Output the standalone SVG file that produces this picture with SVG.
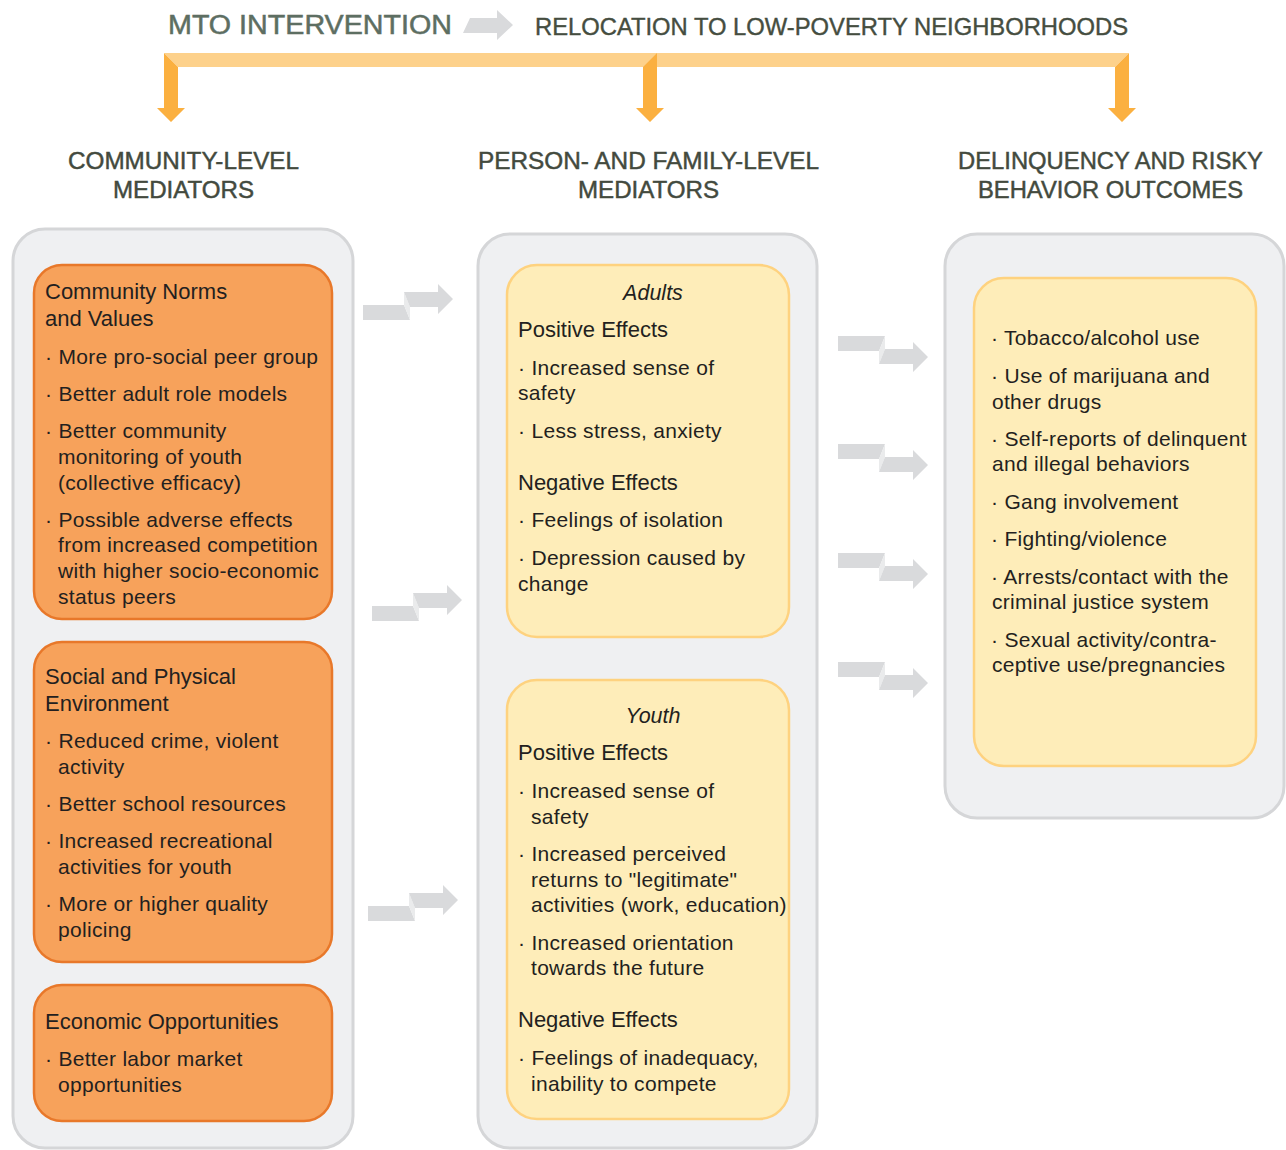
<svg xmlns="http://www.w3.org/2000/svg" width="1286" height="1150" viewBox="0 0 1286 1150">
<style>
text{font-family:"Liberation Sans",Arial,sans-serif;}
.hdr{font-size:23px;fill:#434a3e;stroke:#434a3e;stroke-width:0.45;text-anchor:middle;}
.t{font-size:21px;fill:#231f20;letter-spacing:0.3px;}
.ti{font-size:22px;fill:#231f20;}
.it{font-size:21.5px;fill:#231f20;font-style:italic;text-anchor:middle;}
.panel{fill:#eff0f2;stroke:#d5d6d8;stroke-width:3;}
.org{fill:#f7a25b;stroke:#e8782a;stroke-width:2.5;}
.yel{fill:#feedb9;stroke:#fed27f;stroke-width:2.5;}
.g{fill:#d9dadc;}
.gf{fill:#eaebec;}
.oa{fill:#fbb040;}
.ol{fill:#fdd18b;}
</style>
<g id="title">
<text x="168" y="34" textLength="284" lengthAdjust="spacingAndGlyphs" style="font-size:27px;fill:#5d6e62;stroke:#5d6e62;stroke-width:0.5;">MTO INTERVENTION</text>
<polygon class="g" points="470,18 497,18 497,10 513,25 497,40 497,33 463,33"/>
<text x="535" y="35" textLength="593" lengthAdjust="spacingAndGlyphs" style="font-size:24px;fill:#454d40;stroke:#454d40;stroke-width:0.4;">RELOCATION TO LOW-POVERTY NEIGHBORHOODS</text>
</g>
<g id="bracket">
<polygon class="ol" points="164,53 1129,53 1115,67 178,67"/>
<polygon class="oa" points="164,53 178,67 178,108 185,108 171,122 157,108 164,108"/>
<polygon class="oa" points="657,53 657,108 664,108 650,122 636,108 643,108 643,67"/>
<polygon class="oa" points="1129,53 1129,108 1136,108 1122,122 1108,108 1115,108 1115,67"/>
</g>
<g id="headings">
<text class="hdr" x="183.5" y="169" textLength="231" lengthAdjust="spacingAndGlyphs">COMMUNITY-LEVEL</text>
<text class="hdr" x="183.5" y="198" textLength="141" lengthAdjust="spacingAndGlyphs">MEDIATORS</text>
<text class="hdr" x="648.5" y="169" textLength="341" lengthAdjust="spacingAndGlyphs">PERSON- AND FAMILY-LEVEL</text>
<text class="hdr" x="648.5" y="198" textLength="141" lengthAdjust="spacingAndGlyphs">MEDIATORS</text>
<text class="hdr" x="1110.5" y="169" textLength="305" lengthAdjust="spacingAndGlyphs">DELINQUENCY AND RISKY</text>
<text class="hdr" x="1110.5" y="198" textLength="265" lengthAdjust="spacingAndGlyphs">BEHAVIOR OUTCOMES</text>
</g>
<g id="panel-community"><rect class="panel" x="13" y="229" width="340" height="919" rx="32"/></g>
<g id="panel-person"><rect class="panel" x="478" y="234" width="339" height="914" rx="32"/></g>
<g id="panel-outcomes"><rect class="panel" x="945" y="234" width="339" height="584" rx="32"/></g>
<g id="norms">
<rect class="org" x="34" y="265" width="298" height="354" rx="28"/>
<text class="ti" x="45" y="299">Community Norms</text>
<text class="ti" x="45" y="326">and Values</text>
<text class="t" x="45" y="364">· More pro-social peer group</text>
<text class="t" x="45" y="401">· Better adult role models</text>
<text class="t" x="45" y="438">· Better community</text>
<text class="t" x="58" y="464">monitoring of youth</text>
<text class="t" x="58" y="490">(collective efficacy)</text>
<text class="t" x="45" y="527">· Possible adverse effects</text>
<text class="t" x="58" y="552">from increased competition</text>
<text class="t" x="58" y="578">with higher socio-economic</text>
<text class="t" x="58" y="604">status peers</text>
</g>
<g id="environment">
<rect class="org" x="34" y="642" width="298" height="320" rx="28"/>
<text class="ti" x="45" y="684">Social and Physical</text>
<text class="ti" x="45" y="711">Environment</text>
<text class="t" x="45" y="748">· Reduced crime, violent</text>
<text class="t" x="58" y="774">activity</text>
<text class="t" x="45" y="811">· Better school resources</text>
<text class="t" x="45" y="848">· Increased recreational</text>
<text class="t" x="58" y="874">activities for youth</text>
<text class="t" x="45" y="911">· More or higher quality</text>
<text class="t" x="58" y="937">policing</text>
</g>
<g id="economic">
<rect class="org" x="34" y="985" width="298" height="136" rx="28"/>
<text class="ti" x="45" y="1029">Economic Opportunities</text>
<text class="t" x="45" y="1066">· Better labor market</text>
<text class="t" x="58" y="1092">opportunities</text>
</g>
<g id="adults">
<rect class="yel" x="507" y="265" width="282" height="372" rx="30"/>
<text class="it" x="653" y="300">Adults</text>
<text class="ti" x="518" y="337">Positive Effects</text>
<text class="t" x="518" y="375">· Increased sense of</text>
<text class="t" x="518" y="400">safety</text>
<text class="t" x="518" y="438">· Less stress, anxiety</text>
<text class="ti" x="518" y="490">Negative Effects</text>
<text class="t" x="518" y="527">· Feelings of isolation</text>
<text class="t" x="518" y="565">· Depression caused by</text>
<text class="t" x="518" y="591">change</text>
</g>
<g id="youth">
<rect class="yel" x="507" y="680" width="282" height="439" rx="30"/>
<text class="it" x="653" y="723">Youth</text>
<text class="ti" x="518" y="760">Positive Effects</text>
<text class="t" x="518" y="798">· Increased sense of</text>
<text class="t" x="531" y="824">safety</text>
<text class="t" x="518" y="861">· Increased perceived</text>
<text class="t" x="531" y="887">returns to "legitimate"</text>
<text class="t" x="531" y="912">activities (work, education)</text>
<text class="t" x="518" y="950">· Increased orientation</text>
<text class="t" x="531" y="975">towards the future</text>
<text class="ti" x="518" y="1027">Negative Effects</text>
<text class="t" x="518" y="1065">· Feelings of inadequacy,</text>
<text class="t" x="531" y="1091">inability to compete</text>
</g>
<g id="outcomes">
<rect class="yel" x="974" y="278" width="282" height="488" rx="30"/>
<text class="t" x="991" y="345">· Tobacco/alcohol use</text>
<text class="t" x="991" y="383">· Use of marijuana and</text>
<text class="t" x="992" y="409">other drugs</text>
<text class="t" x="991" y="446">· Self-reports of delinquent</text>
<text class="t" x="992" y="471">and illegal behaviors</text>
<text class="t" x="991" y="509">· Gang involvement</text>
<text class="t" x="991" y="546">· Fighting/violence</text>
<text class="t" x="991" y="584">· Arrests/contact with the</text>
<text class="t" x="992" y="609">criminal justice system</text>
<text class="t" x="991" y="647">· Sexual activity/contra-</text>
<text class="t" x="992" y="672">ceptive use/pregnancies</text>
</g>
<g id="connectors">
<g transform="translate(363,299)">
<polygon class="g" points="0,6 41,6 47,21 0,21"/>
<polygon class="gf" points="41,-7 47,8 47,21 41,6"/>
<polygon class="g" points="41,-7 75,-7 75,-15 90,0 75,15 75,8 47,8"/>
</g>
<g transform="translate(372,600)">
<polygon class="g" points="0,6 41,6 47,21 0,21"/>
<polygon class="gf" points="41,-7 47,8 47,21 41,6"/>
<polygon class="g" points="41,-7 75,-7 75,-15 90,0 75,15 75,8 47,8"/>
</g>
<g transform="translate(368,900)">
<polygon class="g" points="0,6 41,6 47,21 0,21"/>
<polygon class="gf" points="41,-7 47,8 47,21 41,6"/>
<polygon class="g" points="41,-7 75,-7 75,-15 90,0 75,15 75,8 47,8"/>
</g>
<g transform="translate(838,357)">
<polygon class="g" points="0,-21 47,-21 41,-6 0,-6"/>
<polygon class="gf" points="47,-21 47,-8 41,7 41,-6"/>
<polygon class="g" points="47,-8 75,-8 75,-15 90,0 75,15 75,7 41,7"/>
</g>
<g transform="translate(838,465)">
<polygon class="g" points="0,-21 47,-21 41,-6 0,-6"/>
<polygon class="gf" points="47,-21 47,-8 41,7 41,-6"/>
<polygon class="g" points="47,-8 75,-8 75,-15 90,0 75,15 75,7 41,7"/>
</g>
<g transform="translate(838,574)">
<polygon class="g" points="0,-21 47,-21 41,-6 0,-6"/>
<polygon class="gf" points="47,-21 47,-8 41,7 41,-6"/>
<polygon class="g" points="47,-8 75,-8 75,-15 90,0 75,15 75,7 41,7"/>
</g>
<g transform="translate(838,683)">
<polygon class="g" points="0,-21 47,-21 41,-6 0,-6"/>
<polygon class="gf" points="47,-21 47,-8 41,7 41,-6"/>
<polygon class="g" points="47,-8 75,-8 75,-15 90,0 75,15 75,7 41,7"/>
</g>
</g>
</svg>
